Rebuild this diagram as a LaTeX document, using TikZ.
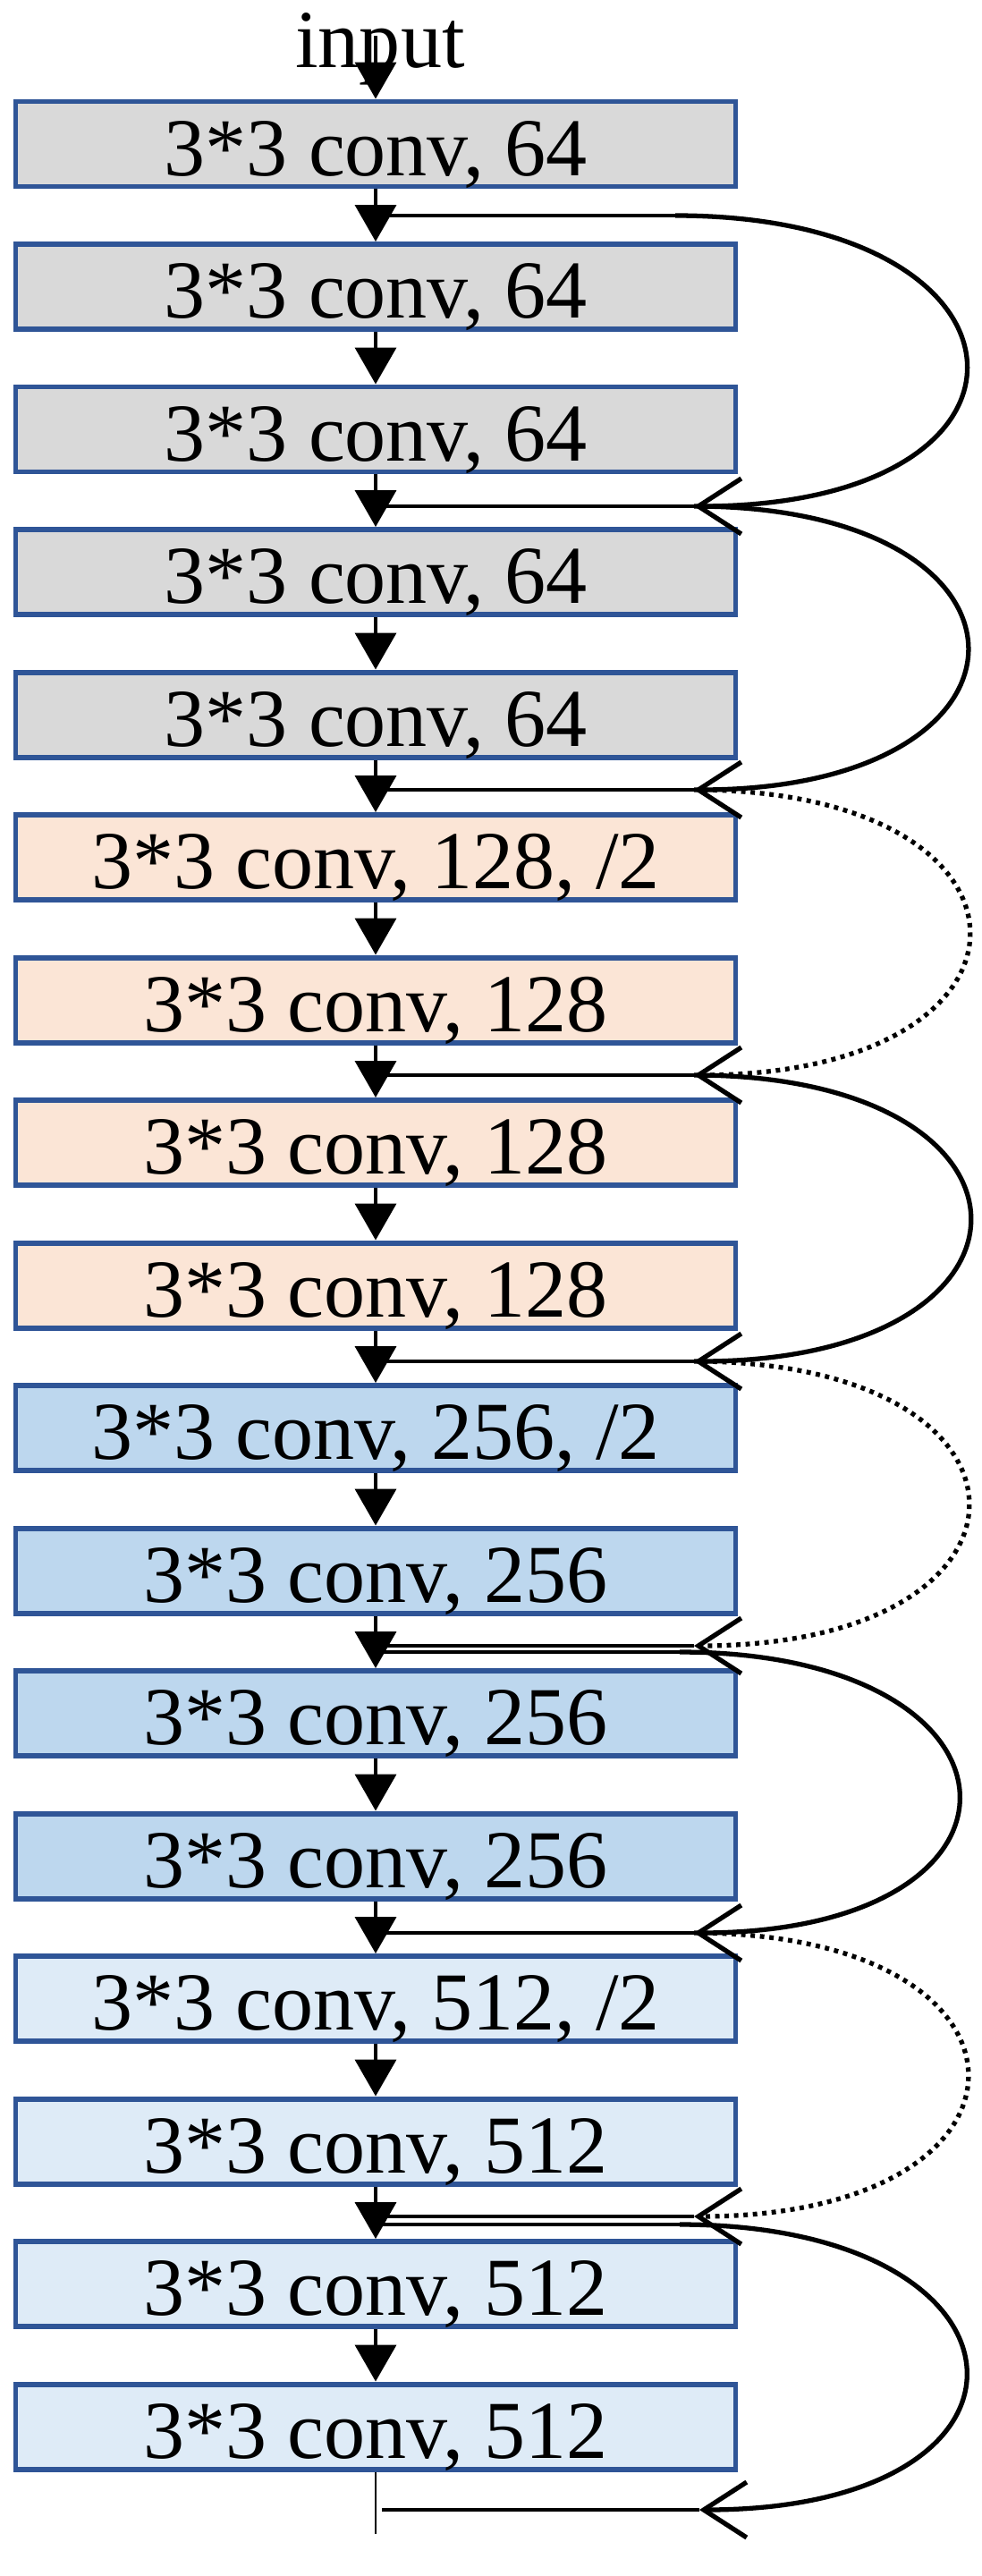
\documentclass[tikz,border=0pt]{standalone}
\usepackage{fontspec}
\setmainfont{Liberation Serif}
\usetikzlibrary{arrows.meta}

\definecolor{boxline}{HTML}{2F5597}
\definecolor{fillgray}{HTML}{D9D9D9}
\definecolor{fillpeach}{HTML}{FBE5D6}
\definecolor{fillblue}{HTML}{BDD7EE}
\definecolor{filllight}{HTML}{DEEBF7}

\tikzset{
  convbox/.style={draw=boxline, line width=1.7pt, minimum width=8.05cm,
    minimum height=0.95cm, inner sep=0pt, text height=0.75cm, text depth=0.05cm,
    font=\fontsize{26.2}{30}\selectfont},
  c64/.style={convbox, fill=fillgray},
  c128/.style={convbox, fill=fillpeach},
  c256/.style={convbox, fill=fillblue},
  c512/.style={convbox, fill=filllight},
  flow/.style={line width=1.1pt, -{Triangle[width=0.46cm,length=0.41cm]}},
  link/.style={line width=1.25pt},
  skip/.style={line width=1.5pt, -{Straight Barb[length=0.48cm,width=0.62cm]},
    out=0, in=0, looseness=3.3},
  skipdot/.style={skip, dash pattern=on 1.4pt off 1.6pt},
}

\begin{document}
\begin{tikzpicture}
\useasboundingbox (0,0) rectangle (10.98,-28.8);
% layers
\node[font=\fontsize{26.2}{30}\selectfont, inner sep=0pt, anchor=base] (input) at (4.25,-0.75) {input};
\node[c64] (conv1) at (4.2,-1.61) {3*3 conv, 64};
\node[c64] (conv2) at (4.2,-3.205) {3*3 conv, 64};
\node[c64] (conv3) at (4.2,-4.8) {3*3 conv, 64};
\node[c64] (conv4) at (4.2,-6.395) {3*3 conv, 64};
\node[c64] (conv5) at (4.2,-7.99) {3*3 conv, 64};
\node[c128] (conv6) at (4.2,-9.585) {3*3 conv, 128, /2};
\node[c128] (conv7) at (4.2,-11.18) {3*3 conv, 128};
\node[c128] (conv8) at (4.2,-12.775) {3*3 conv, 128};
\node[c128] (conv9) at (4.2,-14.37) {3*3 conv, 128};
\node[c256] (conv10) at (4.2,-15.965) {3*3 conv, 256, /2};
\node[c256] (conv11) at (4.2,-17.56) {3*3 conv, 256};
\node[c256] (conv12) at (4.2,-19.155) {3*3 conv, 256};
\node[c256] (conv13) at (4.2,-20.75) {3*3 conv, 256};
\node[c512] (conv14) at (4.2,-22.345) {3*3 conv, 512, /2};
\node[c512] (conv15) at (4.2,-23.94) {3*3 conv, 512};
\node[c512] (conv16) at (4.2,-25.535) {3*3 conv, 512};
\node[c512] (conv17) at (4.2,-27.13) {3*3 conv, 512};

% junction points on the main line and on the right
\coordinate (instart) at (4.2,-0.4);
\coordinate (outend) at (4.2,-28.33);
\coordinate (m0) at (4.2,-2.41);
\coordinate (s0) at (7.55,-2.41);
\coordinate (m1) at (4.2,-5.66);
\coordinate (t1) at (7.76,-5.66);
\coordinate (m2) at (4.2,-8.83);
\coordinate (t2) at (7.76,-8.83);
\coordinate (m3) at (4.2,-12.02);
\coordinate (t3) at (7.76,-12.02);
\coordinate (m4) at (4.2,-15.22);
\coordinate (t4) at (7.76,-15.22);
\coordinate (m5) at (4.2,-18.4);
\coordinate (t5) at (7.76,-18.4);
\coordinate (m5b) at (4.2,-18.47);
\coordinate (t5b) at (7.6,-18.47);
\coordinate (m6) at (4.2,-21.61);
\coordinate (t6) at (7.76,-21.61);
\coordinate (m7) at (4.2,-24.78);
\coordinate (t7) at (7.76,-24.78);
\coordinate (m7b) at (4.2,-24.87);
\coordinate (t7b) at (7.6,-24.87);
\coordinate (m8) at (4.27,-28.06);
\coordinate (t8) at (7.82,-28.06);

% shortcut lines
\draw[link] (m0) -- (s0);
\draw[link] (t1) -- (m1);
\draw[link] (t2) -- (m2);
\draw[link] (t3) -- (m3);
\draw[link] (t4) -- (m4);
\draw[link] (t5) -- (m5);
\draw[link] (t5b) -- (m5b);
\draw[link] (t6) -- (m6);
\draw[link] (t7) -- (m7);
\draw[link] (t7b) -- (m7b);
\draw[link] (t8) -- (m8);
\draw[skip] (s0) to (t1);
\draw[skip] (t1) to (t2);
\draw[skipdot] (t2) to (t3);
\draw[skip] (t3) to (t4);
\draw[skipdot] (t4) to (t5);
\draw[skip] (t5b) to (t6);
\draw[skipdot] (t6) to (t7);
\draw[skip] (t7b) to (t8);

% main path
\draw[flow] (instart) -- (conv1.north);
\draw[flow] (conv1) -- (conv2);
\draw[flow] (conv2) -- (conv3);
\draw[flow] (conv3) -- (conv4);
\draw[flow] (conv4) -- (conv5);
\draw[flow] (conv5) -- (conv6);
\draw[flow] (conv6) -- (conv7);
\draw[flow] (conv7) -- (conv8);
\draw[flow] (conv8) -- (conv9);
\draw[flow] (conv9) -- (conv10);
\draw[flow] (conv10) -- (conv11);
\draw[flow] (conv11) -- (conv12);
\draw[flow] (conv12) -- (conv13);
\draw[flow] (conv13) -- (conv14);
\draw[flow] (conv14) -- (conv15);
\draw[flow] (conv15) -- (conv16);
\draw[flow] (conv16) -- (conv17);
\draw[line width=0.6pt] (conv17) -- (outend);
\end{tikzpicture}
\end{document}
